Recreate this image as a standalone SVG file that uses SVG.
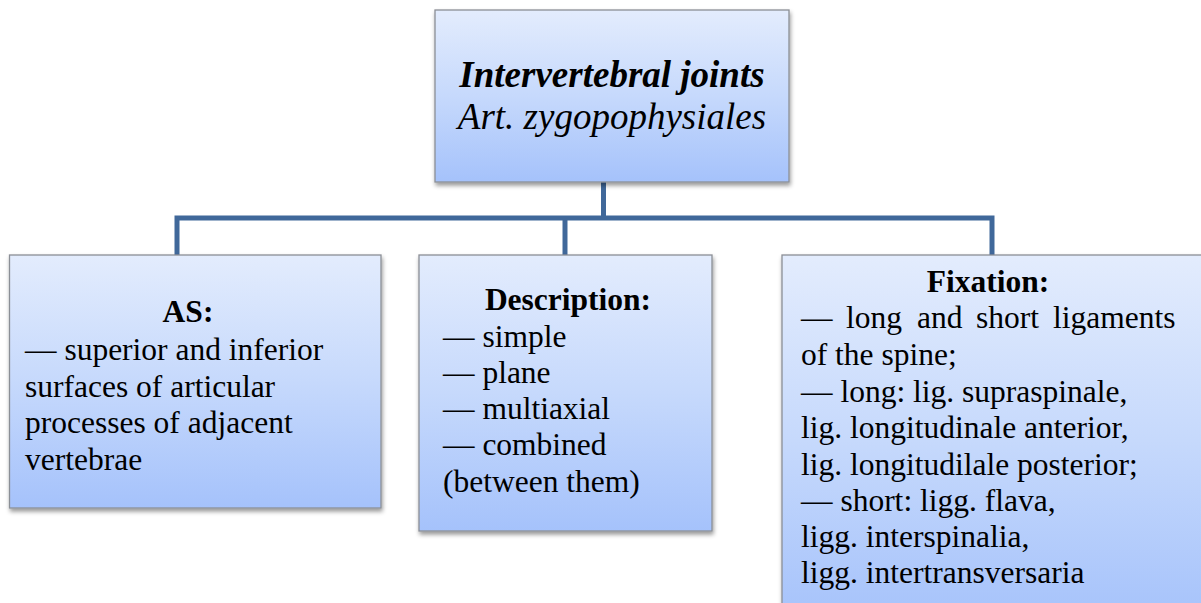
<svg xmlns="http://www.w3.org/2000/svg" width="1201" height="603" viewBox="0 0 1201 603">
  <defs>
    <linearGradient id="boxFill" x1="0" y1="0" x2="0" y2="1">
      <stop offset="0" stop-color="#e3ecfd"/>
      <stop offset="0.5" stop-color="#c6d9fc"/>
      <stop offset="1" stop-color="#a5c2fb"/>
    </linearGradient>
    <filter id="shadow" x="-5%" y="-5%" width="115%" height="115%">
      <feDropShadow dx="1" dy="3" stdDeviation="2" flood-color="#000" flood-opacity="0.4"/>
    </filter>
    <style>
      .box { fill: url(#boxFill); stroke: #8b8f96; stroke-width: 1.3; filter: url(#shadow); }
      .link { fill: none; stroke: #40689a; stroke-width: 5; stroke-linejoin: miter; stroke-linecap: butt; }
      .title { font-size: 37px; font-style: italic; }
      .body { font-size: 31.5px; }
      .head { font-size: 31.5px; font-weight: bold; text-anchor: middle; }
    </style>
  </defs>

  <rect width="1201" height="603" fill="#ffffff"/>

  <!-- tree connectors -->
  <g id="connectors">
    <path class="link" d="M603.5 182 V218"/>
    <path class="link" d="M177 255 V218 H992 V255"/>
    <path class="link" d="M565 218 V255"/>
  </g>

  <g font-family="Liberation Serif, Times New Roman, serif" fill="#000" style="font-family: 'Liberation Serif', 'Times New Roman', serif">
    <!-- root node -->
    <g id="node-root">
      <rect class="box" x="435" y="10" width="354" height="172"/>
      <text class="title" x="612" y="87" text-anchor="middle" font-weight="bold">Intervertebral joints</text>
      <text class="title" x="612" y="129" text-anchor="middle">Art. zygopophysiales</text>
    </g>

    <!-- articular surfaces -->
    <g id="node-as">
      <rect class="box" x="9.5" y="255" width="371.5" height="253"/>
      <text class="head" x="188" y="322">AS:</text>
      <text class="body" x="25" y="360">— superior and inferior</text>
      <text class="body" x="25" y="397">surfaces of articular</text>
      <text class="body" x="25" y="433">processes of adjacent</text>
      <text class="body" x="25" y="470">vertebrae</text>
    </g>

    <!-- description -->
    <g id="node-description">
      <rect class="box" x="419" y="255" width="293" height="276"/>
      <text class="head" x="568" y="310">Description:</text>
      <text class="body" x="443" y="347">— simple</text>
      <text class="body" x="443" y="383">— plane</text>
      <text class="body" x="443" y="419">— multiaxial</text>
      <text class="body" x="443" y="455">— combined</text>
      <text class="body" x="443" y="492">(between them)</text>
    </g>

    <!-- fixation -->
    <g id="node-fixation">
      <rect class="box" x="782" y="255" width="440" height="370"/>
      <text class="head" x="988" y="292">Fixation:</text>
      <text class="body" y="328"><tspan x="801">—</tspan><tspan x="846">long</tspan><tspan x="917">and</tspan><tspan x="976">short</tspan><tspan x="1053">ligaments</tspan></text>
      <text class="body" x="801" y="365">of the spine;</text>
      <text class="body" x="801" y="402">— long: lig. supraspinale,</text>
      <text class="body" x="801" y="438">lig. longitudinale anterior,</text>
      <text class="body" x="801" y="475">lig. longitudilale posterior;</text>
      <text class="body" x="801" y="511">— short: ligg. flava,</text>
      <text class="body" x="801" y="547">ligg. interspinalia,</text>
      <text class="body" x="801" y="583">ligg. intertransversaria</text>
    </g>
  </g>
</svg>
